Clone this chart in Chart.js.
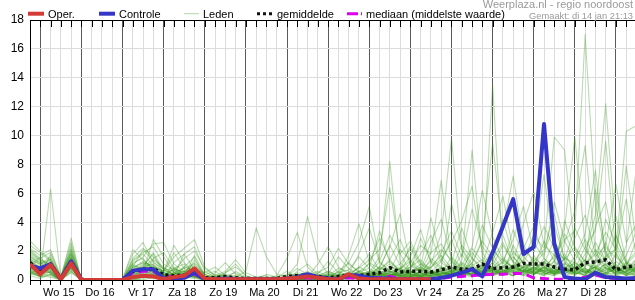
<!DOCTYPE html>
<html>
<head>
<meta charset="utf-8">
<script src="https://cdn.jsdelivr.net/npm/chart.js@4.4.1/dist/chart.umd.min.js"></script>
<style>
body { margin: 0; background: #fff; }
#wrap { width: 635px; height: 300px; position: relative; }
</style>
</head>
<body>
<div id="wrap"><canvas id="chart"></canvas></div>
<script>
// 6-hourly steps, step 0 = di 14 18:00, step 1 = wo 15 00:00
var dayLabels = ['Wo 15', 'Do 16', 'Vr 17', 'Za 18', 'Zo 19', 'Ma 20', 'Di 21',
                 'Wo 22', 'Do 23', 'Vr 24', 'Za 25', 'Zo 26', 'Ma 27', 'Di 28'];

var oper = [1.1, 0.4,1.05,0.05,1.15, 0,0,0,0, 0,0.2,0.3,0.25, 0.05,0.2,0.3,0.8,
    0.1,0.05,0.05,0.05, 0.05,0.05,0.05,0.05, 0.1,0.15,0.25,0.15, 0.05,0.05,0.4,0.1,
    0.05,0.05,0.05,0.05, 0.05,0.05,0.05];

var controle = [1.0, 0.8,1.1,0.05,1.3, 0,0,0,0, 0,0.65,0.75,0.75, 0.1,0.1,0.15,0.5,
    0.05,0.05,0.1,0.05, 0.05,0.05,0.05,0.05, 0.1,0.2,0.4,0.2, 0.1,0.05,0.35,0.3,
    0.15,0.1,0.1,0.05, 0.05,0.05,0.05,0.15, 0.3,0.5,0.75,0.25, 1.9,3.7,5.6,1.8,
    2.3,10.8,2.5,0.2, 0.1,0.05,0.5,0.2, 0.15,0.1,0.15];

var gemiddelde = [1.2, 0.6,1.1,0.1,1.3, 0.05,0,0,0, 0,0.6,0.75,0.8, 0.35,0.3,0.35,0.55,
    0.15,0.15,0.25,0.15, 0.1,0.1,0.1,0.1, 0.25,0.3,0.35,0.25, 0.15,0.25,0.35,0.3,
    0.4,0.5,0.85,0.55, 0.6,0.6,0.55,0.7, 0.9,0.75,0.75,1.1, 0.8,0.85,0.9,1.15,
    1.1,1.1,0.9,0.75, 0.7,1.2,1.25,1.4, 0.7,0.9,1.0];

var mediaan = [1.0, 0.6,1.0,0.05,1.2, 0,0,0,0, 0,0.5,0.6,0.6, 0.2,0.25,0.3,0.4,
    0.05,0.05,0.1,0.05, 0,0,0,0, 0.05,0.1,0.15,0.1, 0.05,0.1,0.15,0.1,
    0.15,0.15,0.25,0.1, 0.05,0.05,0.05,0.1, 0.2,0.25,0.3,0.35, 0.4,0.4,0.45,0.45,
    0.15,0.1,0.05,0.05, 0.1,0.2,0.35,0.15, 0.1,0.1,0.1];

var leden = [
  [1.4, 0.8,1.2,0.1,1.5, 0,0,0,0, 0,0.4,0.9,1.1, 0.4,0.3,0.5,0.7, 0.1,0.2,0.3,0.1, 0,0.1,0,0.1, 0.2,0.5,0.4,0.2, 0.1,0.3,0.5,0.2, 0.4,0.7,1.3,0.6, 0.5,0.9,0.4,0.7, 1.2,0.5,1.0,1.4, 0.7,1.3,0.9,0.6, 1.5,1.0,0.4,0.7, 0.5,1.1,1.8,1.0, 0.6,2.4,7.8],
  [0.9, 1.6,0.7,0,1.0, 0,0,0,0, 0,1.2,1.5,0.6, 0.2,0.8,1.1,0.4, 0,0,0.1,0, 0,0,0,0, 0.1,0.2,0.1,0, 0,0.1,0.2,0.6, 1.1,0.5,0.3,0.8, 0.2,0.4,1.5,0.9, 0.6,1.8,0.7,1.1, 13.5,1.6,0.8,2.1, 1.4,0.6,0.9,1.8, 0.7,0.3,1.2,2.6, 0.9,0.4,0.7],
  [0.5, 0.3,1.8,0.2,2.2, 0,0,0,0, 0,0.2,0.6,2.8, 1.6,0.5,0.2,1.4, 0.3,0,0,0.2, 0.1,0,0.4,0.2, 0,0.6,1.1,0.4, 0.2,0,0.3,0.9, 0.5,1.6,8.2,1.2, 0.6,0.2,0.9,1.7, 0.8,0.5,2.2,1.3, 0.4,0.9,1.6,0.8, 0.3,1.1,2.8,1.2, 0.5,1.4,0.8,0.3, 1.9,0.6,1.0],
  [1.8, 1.3,0.4,0,0.9, 0,0,0,0, 0,0,0.3,0.4, 0.1,1.2,1.8,2.3, 0.6,0.2,0.1,0, 0,0,0,0, 0,0,0.2,0.1, 0,0.4,0.3,0.1, 0.2,0.3,0.6,0.4, 0.9,1.4,0.6,0.3, 0.5,1.2,0.8,0.4, 1.0,2.4,1.3,0.7, 0.5,0.9,1.6,2.8, 3.4,17.0,5.2,1.8, 0.9,0.5,1.3],
  [2.7, 2.0,1.4,0.3,1.8, 0.1,0,0,0, 0,0.9,2.1,1.3, 0.5,0.4,0.9,0.6, 0.2,0.5,1.2,0.4, 0.1,0,0,0, 0.3,1.1,4.4,1.5, 0.4,0.2,0.1,0.3, 0.6,0.4,0.2,0.8, 1.3,0.5,0.2,0.4, 0.7,0.3,0.5,1.0, 0.6,0.3,2.4,1.1, 0.8,0.4,0.6,1.5, 1.2,0.7,0.3,0.9, 0.5,1.1,0.6],
  [0.7, 0.2,0.9,0,1.1, 0,0,0,0, 0,0.1,0.2,0.5, 0.3,0.1,0.3,0.9, 0.1,0,0,0, 0,0,0.1,0, 0,0.1,0.3,0.2, 0.1,0.6,1.2,0.5, 0.3,0.1,0.4,0.2, 0.5,1.1,0.7,0.4, 1.6,0.9,0.3,0.6, 1.2,0.5,0.8,1.4, 3.1,2.2,9.9,9.0, 2.1,0.8,0.4,1.2, 0.6,0.3,0.9],
  [1.1, 0.4,6.3,0.1,2.1, 0,0,0,0, 0,0.3,0.4,0.2, 0.6,0.9,0.4,0.3, 0,0,0.1,0.6, 0.2,0,0,0, 0,0.1,0,0, 0,0,0.2,0.1, 0.3,0.9,0.5,0.3, 0.2,0.6,1.3,2.1, 1.4,0.6,0.3,0.5, 0.9,1.5,0.7,0.3, 0.6,1.3,0.5,0.9, 1.1,0.4,0.7,1.6, 2.2,0.8,0.4],
  [0.4, 0.9,0.5,0,0.8, 0,0,0,0, 0,0.6,1.0,1.8, 0.4,0.2,0.1,0.5, 0.2,0.1,0,0, 0,0.2,0.3,0, 0.1,0.3,0.2,0.1, 0.5,0.2,0.1,0.4, 0.2,0.7,1.1,0.3, 1.2,2.4,1.8,6.9, 1.3,0.7,0.4,1.1, 0.5,0.8,1.9,1.2, 0.4,0.7,1.3,0.6, 0.3,0.9,2.1,1.4, 0.7,1.2,0.5],
  [2.2, 1.7,2.1,0.2,2.9, 0,0,0,0, 0.1,1.8,2.6,1.2, 0.8,0.6,0.3,0.2, 0.1,0,0.2,0.3, 0,0,0,0, 0.2,0.4,0.2,0, 0.3,0.8,0.6,0.2, 0.4,0.9,2.3,4.6, 1.0,0.5,0.3,0.8, 0.4,1.1,0.6,0.3, 1.8,0.6,0.4,0.9, 1.2,0.5,0.3,1.6, 0.8,1.4,0.6,0.3, 1.1,0.4,0.8],
  [1.0, 0.6,0.8,0,1.2, 0,0,0,0, 0,0.5,0.7,0.4, 0.2,0.5,0.8,1.1, 0.3,0.1,0,0.2, 0.6,3.6,1.6,0.4, 0.2,0.1,0,0.3, 0.1,0.4,0.2,0.6, 0.8,0.3,0.5,0.9, 0.3,0.2,0.6,0.4, 0.9,0.5,1.5,0.7, 0.3,0.6,1.0,0.5, 1.7,0.8,0.4,0.6, 1.3,0.5,0.9,0.4, 0.2,0.6,1.4],
  [1.6, 1.1,1.6,0.1,1.7, 0,0,0,0, 0,1.4,1.9,2.3, 1.1,0.7,0.6,1.0, 0.4,0.6,0.2,0, 0,0.1,0,0, 0,0.2,0.3,0.6, 0.2,0.1,0.3,0.5, 0.3,0.5,0.8,0.4, 0.6,0.3,1.1,3.2, 9.8,2.1,0.9,0.5, 0.8,1.2,0.6,0.4, 0.9,0.6,1.8,0.7, 0.4,0.8,0.5,1.1, 0.3,0.9,0.5],
  [0.8, 0.5,0.3,0,0.6, 0,0,0,0, 0,0.1,0,0.2, 0.1,0.3,0.2,0.6, 0,0.2,0.4,0.1, 0,0,0.1,0.3, 1.5,3.3,0.9,0.2, 0.1,0,0.2,0.1, 0.2,0.4,0.3,0.6, 0.4,0.9,0.5,0.2, 0.3,0.6,0.4,0.9, 0.5,0.3,0.7,1.0, 0.6,0.4,0.8,0.3, 0.7,1.2,0.6,0.4, 0.5,0.9,0.6],
  [1.3, 0.7,1.1,0.1,1.4, 0,0,0,0, 0,0.8,1.3,0.9, 0.6,2.4,1.2,0.5, 0.2,0.1,0,0, 0,0,0,0.1, 0.2,0.1,0.4,0.3, 0.6,0.3,0.1,0.2, 0.3,0.2,0.4,0.3, 0.2,0.5,0.3,0.6, 0.4,1.3,9.0,1.6, 0.7,0.4,0.9,1.3, 0.6,1.5,0.8,0.4, 1.0,0.6,0.9,0.5, 1.3,0.7,0.3],
  [0.6, 0.2,0.6,0,0.9, 0,0,0,0, 0,0.2,0.5,0.7, 0.3,0.2,0.1,0.3, 0,0,0,0.1, 0,0,0,0, 0,0.1,0.2,0.1, 0.2,0.3,1.2,2.6, 5.1,1.3,0.6,0.4, 0.2,0.3,0.5,0.2, 0.6,0.4,0.2,0.8, 1.4,0.7,0.3,0.6, 0.4,0.9,0.5,1.2, 0.8,0.3,0.6,0.9, 0.4,1.2,0.7],
  [1.9, 1.4,0.9,0.2,1.6, 0,0,0,0, 0,0.7,0.4,0.6, 0.4,0.6,1.5,2.0, 0.8,0.3,0.1,0, 0,0,0,0, 0.1,0,0.1,0.2, 0.4,0.2,0.3,0.1, 0.1,0.3,0.2,0.5, 0.7,0.3,0.2,0.4, 0.6,0.9,0.5,0.3, 0.7,1.0,0.6,1.8, 2.4,7.3,1.9,0.7, 0.5,0.4,1.0,0.6, 0.9,0.5,1.2],
  [0.3, 0.1,0.4,0,0.7, 0,0,0,0, 0,0,0.1,0.3, 0.2,0.1,0.2,0.4, 0.1,0,0,0, 0,0,0,0, 0,0,0.1,0.2, 0,0.2,0.4,0.3, 0.6,0.4,0.9,0.7, 1.6,3.5,1.2,0.5, 0.3,0.8,0.6,0.4, 0.9,0.5,0.3,0.7, 1.1,0.6,0.4,0.9, 0.5,0.3,1.4,0.8, 0.6,0.4,0.9],
  [2.4, 1.9,1.3,0.1,2.4, 0,0,0,0, 0,2.1,1.4,0.8, 0.3,0.4,0.6,0.8, 0.1,0,0,0, 0,0,0,0, 0,0.1,0,0.1, 0.3,0.1,0.2,0.4, 0.2,0.6,0.4,0.3, 0.5,0.8,0.4,0.6, 0.3,0.5,1.2,2.8, 9.5,3.1,1.2,0.5, 0.8,1.3,0.6,0.4, 0.9,0.5,0.7,1.1, 0.4,0.8,0.5],
  [0.9, 0.5,0.7,0,1.0, 0,0,0,0, 0,0.4,0.6,1.4, 0.9,0.3,0.2,0.6, 0.2,0.3,0.6,1.4, 0.5,0.2,0.1,0, 0,0,0.2,0.1, 0.1,0.3,0.5,0.8, 1.4,2.1,6.4,1.8, 0.6,0.3,0.2,0.5, 0.4,0.3,0.7,0.5, 0.3,0.6,0.9,0.4, 0.8,0.5,0.3,0.6, 0.4,0.7,0.3,0.5, 0.8,0.3,0.6],
  [1.5, 1.0,0.8,0.1,1.2, 0,0,0,0, 0,0.9,0.6,0.3, 0.2,0.5,0.3,0.2, 0,0,0,0, 0,0,0,0.2, 0.4,0.2,0.1,0, 0.1,0.2,0.1,0.3, 0.2,0.4,0.6,0.3, 0.4,0.2,0.5,0.8, 0.5,0.3,0.6,0.4, 0.7,0.4,1.1,0.6, 0.9,0.5,1.3,3.6, 9.9,2.4,0.8,0.5, 0.3,0.7,1.5],
  [0.4, 0.3,0.2,0,0.6, 0,0,0,0, 0,0.1,0.3,0.2, 0.1,0.2,0.4,0.3, 0,0.2,0.5,0.9, 0.3,0,0,0, 0,0.3,0.5,0.2, 0.1,0,0.1,0.2, 0.4,0.2,0.3,0.5, 0.3,0.6,0.9,1.4, 2.6,4.1,6.5,1.9, 0.8,0.5,0.3,0.6, 0.4,0.9,0.6,0.3, 0.5,0.8,0.4,0.7, 1.0,0.4,0.3],
  [1.2, 0.8,1.5,0.1,1.9, 0,0,0,0, 0,1.0,0.8,0.5, 0.3,0.8,0.5,1.2, 0.4,0.1,0,0, 0,0,0,0, 0.1,0.2,0.3,0.1, 0,0.2,0.1,0.3, 0.5,0.3,0.7,1.1, 2.2,0.9,4.3,1.5, 0.5,0.3,0.8,0.6, 0.4,0.7,0.5,0.9, 0.6,0.3,0.8,0.5, 1.2,0.6,0.4,0.8, 0.5,1.0,0.6],
  [0.7, 0.4,0.9,0,0.8, 0,0,0,0, 0,0.3,0.2,0.1, 0,0.1,0.3,0.5, 0.1,0,0,0, 0,0,0,0, 0,0.1,0,0.2, 0.3,0.1,0.2,0.1, 0.2,0.1,0.3,0.2, 0.4,0.3,0.6,0.3, 0.5,0.8,0.4,0.6, 1.2,4.2,1.6,0.8, 0.5,0.3,0.6,0.9, 0.4,0.6,0.3,0.5, 0.7,0.3,0.5],
  [1.7, 1.2,0.6,0,1.3, 0,0,0,0, 0,1.5,2.2,1.6, 0.7,0.4,0.2,0.1, 0,0,0,0, 0,0,0,0, 0,0,0.1,0, 0.2,0.1,0.3,0.2, 0.1,0.3,0.5,0.8, 0.4,0.2,0.3,0.6, 0.9,0.4,0.3,0.7, 0.5,0.9,0.6,0.3, 0.7,1.2,0.5,2.6, 4.8,9.3,2.0,0.8, 0.4,0.6,0.3],
  [0.5, 0.2,0.4,0,0.5, 0,0,0,0, 0,0,0.2,0.4, 0.2,0.1,0.1,0.3, 0,0,0.1,0.2, 0,0,0,0, 0,0.2,0.1,0, 0.1,0.3,0.2,0.5, 0.3,0.6,0.4,0.2, 0.3,0.5,0.2,0.4, 0.6,0.3,0.5,0.8, 0.4,0.6,0.3,0.9, 1.3,2.1,4.6,1.4, 0.6,0.3,0.5,0.4, 0.8,0.5,0.3],
  [2.1, 1.5,1.9,0.2,2.6, 0,0,0,0, 0,1.1,1.6,2.5, 2.6,1.1,0.6,0.4, 0.1,0,0,0, 0,0,0,0, 0,0.1,0.2,0.4, 0.2,0.1,0,0.1, 0.3,0.2,0.4,0.3, 0.5,0.2,0.4,0.7, 0.3,0.6,0.4,0.5, 0.8,0.5,1.0,0.6, 0.4,0.8,0.5,0.7, 1.6,3.2,7.6,1.4, 0.6,0.9,0.5],
  [0.8, 0.6,1.0,0.1,1.1, 0,0,0,0, 0,0.6,0.9,0.5, 0.4,0.2,0.9,1.6, 0.2,0.1,0.3,0.5, 0.1,0,0,0, 0,0,0,0.1, 0,0.1,0.2,0.4, 0.2,0.5,0.3,0.6, 0.4,0.2,0.6,0.3, 0.5,0.4,0.9,0.6, 0.3,0.7,0.5,0.4, 0.6,0.9,0.4,0.8, 0.5,1.8,4.5,12.2, 3.1,1.2,0.7],
  [1.4, 1.1,1.3,0.1,1.6, 0,0,0,0, 0,0.5,1.1,0.7, 0.5,0.3,0.4,0.2, 0,0.1,0,0.3, 0,0,0,0, 0.2,0.4,0.3,0.1, 0,0.2,0.1,0.2, 0.1,0.3,0.2,0.4, 0.6,0.4,0.3,0.5, 0.4,0.7,0.3,0.9, 0.6,0.4,0.8,0.5, 0.9,0.6,0.4,1.1, 0.7,2.3,3.4,9.6, 1.8,0.6,0.9],
  [1.0, 0.7,0.5,0,1.0, 0,0,0,0, 0,0.2,0.4,0.6, 0.4,0.2,0.5,0.3, 0.1,0,0.2,0, 0,0,0,0, 0,0.1,0,0, 0,0.1,0.3,0.2, 0.4,0.3,0.5,0.2, 0.3,0.6,0.4,0.3, 0.7,0.5,0.4,0.6, 0.3,0.9,0.5,0.7, 0.5,0.4,0.7,0.6, 0.9,0.5,1.2,1.6, 4.4,1.3,0.8],
  [0.6, 0.4,0.6,0,0.9, 0,0,0,0, 0,0.3,0.6,0.9, 0.5,0.7,0.3,0.2, 0,0,0,0.1, 0,0,0,0, 0.1,0,0.1,0.3, 0.1,0,0.2,0.1, 0.2,0.4,0.3,0.5, 0.2,0.4,0.3,0.5, 0.4,0.6,0.3,0.5, 0.8,0.4,0.6,0.9, 0.5,0.7,0.4,0.6, 0.8,0.5,0.9,1.4, 2.1,10.3,10.7],
  [1.3, 0.9,1.2,0.1,1.5, 0,0,0,0, 0,0.9,1.2,1.0, 0.6,1.6,2.2,2.8, 0.9,0.3,0.1,0, 0,0,0,0, 0,0.2,0.4,0.2, 0.3,0.5,0.3,0.6, 0.4,0.8,0.6,0.3, 0.5,0.7,0.4,0.9, 0.6,0.8,1.1,0.5, 0.7,0.4,0.9,0.6, 0.8,0.5,0.9,0.7, 0.6,1.1,0.8,2.3, 1.5,7.9,2.4],
  [1.1, 0.9,1.0,0.1,1.3, 0,0,0,0, 0,0.7,1.2,0.8, 0.3,0.5,0.4,0.9, 0.2,0.1,0,0, 0,0,0,0, 0.1,0.3,0.6,0.2, 0.4,1.6,0.8,0.3, 1.2,2.9,1.4,0.6, 0.9,1.8,3.1,1.2, 0.7,2.4,1.5,3.8, 2.2,1.1,3.5,1.6, 0.9,2.7,1.3,3.2, 1.8,0.9,2.6,1.4, 3.1,1.2,2.0],
  [0.5, 0.4,0.8,0,1.0, 0,0,0,0, 0,0.3,0.8,1.5, 1.9,0.8,0.4,0.3, 0.1,0.2,0,0, 0,0,0,0, 0,0,0.2,1.1, 2.3,0.9,0.4,1.8, 3.6,1.2,0.6,2.1, 1.4,0.7,2.6,4.2, 1.5,0.8,1.9,1.1, 3.3,5.8,2.0,1.2, 2.6,1.5,0.8,4.1, 2.2,1.3,3.7,5.4, 1.6,0.9,2.8],
  [1.6, 1.2,1.4,0.1,1.8, 0,0,0,0, 0,1.1,0.6,0.4, 0.2,0.3,1.8,0.7, 0.5,0.9,0.3,0.1, 0,0,0,0, 0,0.4,0.2,0.5, 0.9,2.2,1.1,0.6, 0.4,1.3,3.1,1.8, 2.7,1.2,0.8,1.9, 3.4,1.6,4.9,2.3, 1.4,2.6,1.2,3.9, 6.1,2.4,1.7,1.0, 2.9,4.5,1.8,3.3, 2.1,5.6,1.5],
  [0.9, 0.6,0.5,0,0.8, 0,0,0,0, 0,0.4,0.5,0.9, 0.6,1.9,0.8,0.4, 0.2,0,0.5,1.1, 0.3,0.1,0,0, 0,0.1,0.3,0.2, 0.6,0.3,1.7,3.9, 1.2,0.8,2.4,1.0, 0.6,2.9,1.3,0.8, 5.3,2.2,1.1,2.7, 1.6,3.4,7.2,2.5, 1.1,1.9,3.8,1.4, 2.3,1.2,6.3,2.0, 0.8,1.7,3.4],
  [2.0, 1.4,1.1,0.2,2.0, 0,0,0,0, 0,1.3,1.8,1.0, 0.4,0.2,0.3,1.7, 0.4,0.1,0,0, 0,0,0,0, 0.3,0.8,0.4,0.1, 0.2,0.6,0.3,0.9, 1.8,0.7,1.4,2.8, 1.1,0.6,1.9,2.5, 1.2,3.6,1.5,0.9, 2.1,1.3,2.8,5.1, 1.9,3.7,2.2,1.4, 3.6,2.1,1.2,4.2, 2.5,1.1,1.8],
  [0.7, 0.5,0.9,0,1.2, 0,0,0,0, 0,0.2,0.9,1.9, 0.7,0.4,0.6,0.3, 0.1,0.4,0.2,0, 0,0,0,0.2, 0.6,0.2,0.1,0.4, 1.3,0.5,0.7,1.6, 0.8,3.4,1.2,0.7, 2.4,1.1,0.5,1.3, 2.8,1.0,2.3,6.2, 3.0,1.4,0.9,2.2, 3.7,1.6,5.4,2.7, 1.3,2.8,1.6,2.4, 6.6,2.6,3.9]
];

var steps = [];
for (var i = 0; i < 60; i++) steps.push(i);

Chart.defaults.font.family = '"Liberation Sans", Arial, sans-serif';
Chart.defaults.color = '#000';

var datasets = [
    { label: 'Oper.', data: oper, borderColor: '#d43a36', borderWidth: 4 },
    { label: 'Controle', data: controle, borderColor: '#3535c8', borderWidth: 4 },
    { label: 'gemiddelde', data: gemiddelde, borderColor: '#111', borderWidth: 3.5, borderDash: [3, 3] },
    { label: 'mediaan', data: mediaan, borderColor: '#dd00ee', borderWidth: 3, borderDash: [9, 5] }
];
leden.forEach(function (m, k) {
    datasets.push({ label: 'lid ' + (k + 1), data: m, borderColor: 'rgba(50,150,20,0.34)', borderWidth: 1.1 });
});
datasets.forEach(function (d) {
    d.pointRadius = 0;
    d.tension = 0;
    d.borderJoinStyle = 'round';
    d.fill = false;
});

var legendItems = [
    { text: 'Oper.', color: '#d43a36', w: 4, dash: [], x1: 28, x2: 44, tx: 48 },
    { text: 'Controle', color: '#3535c8', w: 4, dash: [], x1: 99, x2: 115, tx: 119 },
    { text: 'Leden', color: 'rgba(100,175,70,0.5)', w: 1, dash: [], x1: 184, x2: 199, tx: 203 },
    { text: 'gemiddelde', color: '#111', w: 3, dash: [3, 3], x1: 257, x2: 272, tx: 277 },
    { text: 'mediaan (middelste waarde)', color: '#dd00ee', w: 3, dash: [11, 3], x1: 347, x2: 362, tx: 366 }
];

var decor = {
    id: 'decor',
    afterDraw: function (chart) {
        var ctx = chart.ctx, a = chart.chartArea, xs = chart.scales.x;
        ctx.save();
        ctx.strokeStyle = '#000';
        ctx.lineWidth = 1;
        ctx.beginPath();
        ctx.moveTo(a.left, a.top + 0.5);
        ctx.lineTo(a.right, a.top + 0.5);
        for (var i = 0; i <= 58; i++) {
            var x = Math.round(xs.getPixelForValue(i)) + 0.5;
            ctx.moveTo(x, a.top);
            ctx.lineTo(x, a.top + 7);
        }
        ctx.stroke();

        ctx.font = '11px "Liberation Sans", Arial, sans-serif';
        ctx.textBaseline = 'alphabetic';
        legendItems.forEach(function (it) {
            ctx.strokeStyle = it.color;
            ctx.lineWidth = it.w;
            ctx.setLineDash(it.dash);
            ctx.beginPath();
            ctx.moveTo(it.x1, 13.7);
            ctx.lineTo(it.x2, 13.7);
            ctx.stroke();
            ctx.setLineDash([]);
            ctx.fillStyle = '#000';
            ctx.textAlign = 'left';
            ctx.fillText(it.text, it.tx, 17.5);
        });

        ctx.fillStyle = '#9a9a9a';
        ctx.textAlign = 'right';
        ctx.fillText('Weerplaza.nl - regio noordoost', 633, 8);
        ctx.font = '9.3px "Liberation Sans", Arial, sans-serif';
        ctx.fillText('Gemaakt: di 14 jan 21:13', 633, 18.5);
        ctx.restore();
    }
};

new Chart(document.getElementById('chart'), {
    type: 'line',
    data: { labels: steps, datasets: datasets },
    options: {
        responsive: true,
        maintainAspectRatio: false,
        animation: false,
        events: [],
        layout: { padding: { top: 20, right: 0, left: 0, bottom: 0 } },
        plugins: { legend: { display: false }, tooltip: { enabled: false } },
        scales: {
            x: {
                type: 'linear',
                min: 0,
                max: 58.85,
                afterFit: function (s) { s.height = 20; },
                border: { color: '#000', width: 1 },
                grid: {
                    color: function (c) { return c.tick && c.tick.value % 4 === 1 ? '#5a5a5a' : '#dcdcdc'; },
                    tickColor: '#000',
                    tickLength: 5
                },
                ticks: {
                    stepSize: 1,
                    autoSkip: false,
                    includeBounds: false,
                    maxRotation: 0,
                    padding: 1,
                    labelOffset: -2,
                    font: { size: 11 },
                    callback: function (v) {
                        return v % 4 === 3 ? (dayLabels[(v - 3) / 4] || '') : '';
                    }
                }
            },
            y: {
                min: 0,
                max: 18,
                afterFit: function (s) { s.width = 30; },
                border: { color: '#000', width: 1 },
                grid: { color: '#dcdcdc', drawTicks: false },
                ticks: { stepSize: 2, padding: 6, font: { size: 12 } }
            }
        }
    },
    plugins: [decor]
});
</script>
</body>
</html>
